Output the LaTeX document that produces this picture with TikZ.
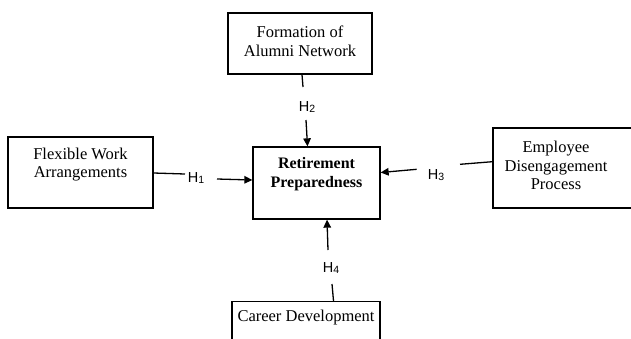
\documentclass[tikz,border=0pt]{standalone}
\usepackage{fontspec}
\setmainfont{Liberation Serif}
\newfontfamily\hfont{Liberation Sans}
\usetikzlibrary{arrows.meta}
\tikzset{
  box/.style={draw, line width=1.3pt, rectangle, inner sep=0pt},
  boxtext/.style={font=\fontsize{16.5}{18.5}\selectfont, align=center, inner sep=0pt},
  hlab/.style={font=\hfont\fontsize{14.5}{14.5}\selectfont, inner sep=0pt},
  conn/.style={line width=1.3pt},
  arr/.style={line width=1.3pt, -{Triangle[length=8pt,width=7.5pt]}}
}
\newcommand{\hl}[1]{H\raisebox{-1.5pt}{\fontsize{10.5}{10.5}\selectfont #1}}
\begin{document}
\begin{tikzpicture}[x=1pt,y=-1pt]
\useasboundingbox (0,0) rectangle (631,338);
% boxes
\node[box, minimum width=144pt, minimum height=61pt] (top) at (300,43.5) {};
\node[box, minimum width=127pt, minimum height=72pt] (ctr) at (316.5,183) {};
\node[box, minimum width=145pt, minimum height=71pt] (lft) at (80.5,172.5) {};
\node[box, minimum width=142pt, minimum height=80pt] (rgt) at (564,168) {};
\node[box, minimum width=148pt, minimum height=50pt] (bot) at (306,326.5) {};
% texts
\node[boxtext] (ttop) at (300,41.5) {Formation of\\Alumni Network};
\node[boxtext, font=\bfseries\fontsize{16}{18.5}\selectfont] (tctr) at (316.5,174) {Retirement\\Preparedness};
\node[boxtext] (tlft) at (80.5,164.5) {Flexible Work\\Arrangements};
\node[boxtext] (trgt) at (556,165.5) {Employee\\Disengagement\\Process};
\node[boxtext] (tbot) at (306,318) {Career Development};
% labels
\node[hlab] (h2) at (307,107) {\hl{2}};
\node[hlab] (h1) at (196,178) {\hl{1}};
\node[hlab] (h3) at (436,175) {\hl{3}};
\node[hlab] (h4) at (331,268) {\hl{4}};
% free ends
\coordinate (a2) at (303,87);
\coordinate (b2) at (306,120);
\coordinate (a1) at (185,174);
\coordinate (b1) at (217,179);
\coordinate (a3) at (460,164.3);
\coordinate (b3) at (416.7,169.3);
\coordinate (a4) at (332,284);
\coordinate (b4) at (328,250);
% connectors
\draw[conn] ([xshift=2pt]top.south) -- (a2);
\draw[arr] (b2) -- ([xshift=-9pt]ctr.north);
\draw[conn] ([yshift=-0.5pt]lft.east) -- (a1);
\draw[arr] (b1) -- ([yshift=3pt]ctr.west);
\draw[conn] ([yshift=6.3pt]rgt.west) -- (a3);
\draw[arr] (b3) -- ([yshift=10.5pt]ctr.east);
\draw[conn] ([xshift=27.5pt]bot.north) -- (a4);
\draw[arr] (b4) -- ([xshift=10.5pt]ctr.south);
\end{tikzpicture}
\end{document}
